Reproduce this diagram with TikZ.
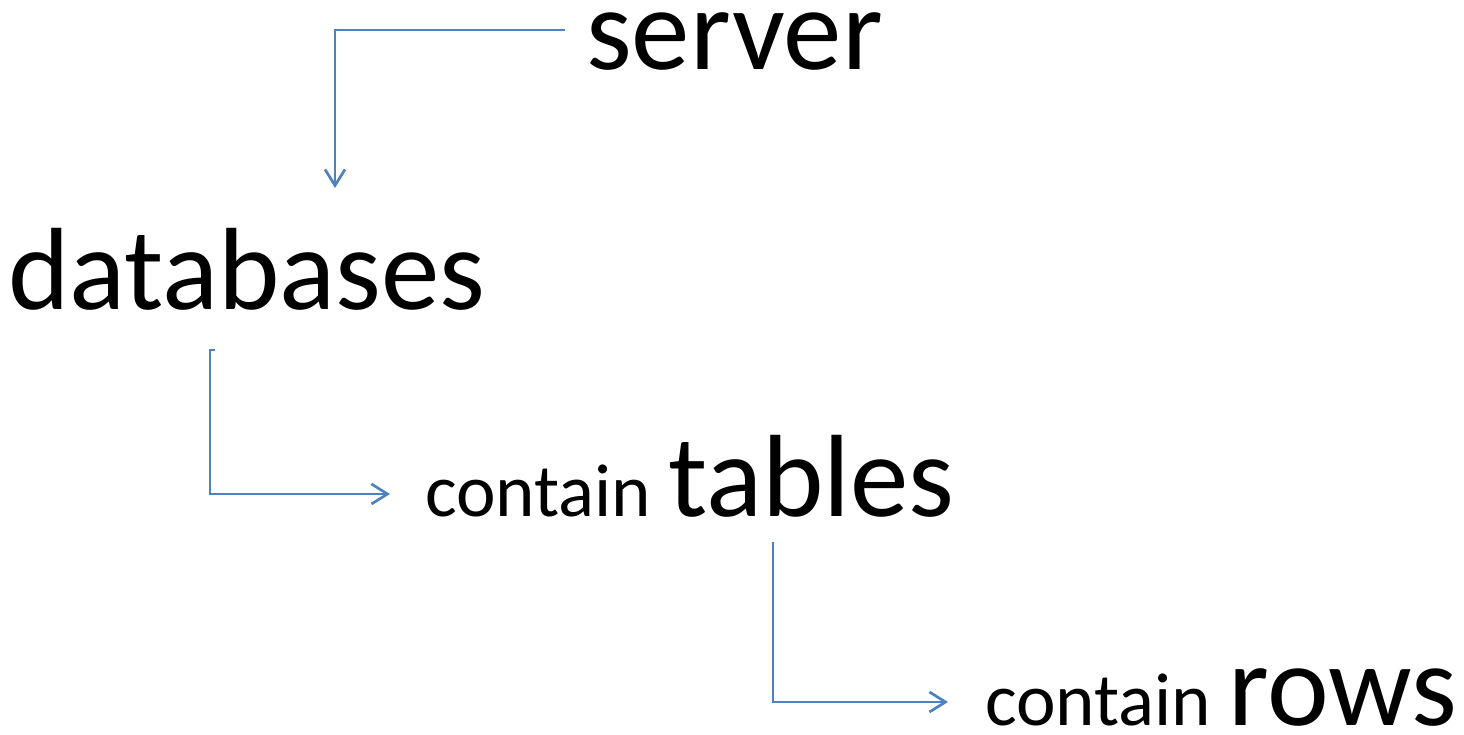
\documentclass[tikz,border=0pt]{standalone}
\usepackage{fontspec}
\setmainfont{Carlito}
\usepackage{tikz}
\usetikzlibrary{arrows.meta}
\definecolor{linkblue}{RGB}{79,129,189}

\begin{document}
\begin{tikzpicture}[
            x=1pt, y=1pt,
            big/.style={inner sep=0pt, anchor=base west, font=\fontsize{117}{120}\selectfont},
            link/.style={linkblue, line width=2.7pt, -{Straight Barb[length=16pt, width=20pt]}}
        ]
            \useasboundingbox (0,0) rectangle (1464,734);

            % Palabras
            \node[big] (server) at (586,664) {server};
            \node[big] (databases) at (8,424) {databases};
            \node[big] (tables) at (425,217) {{\fontsize{75}{80}\selectfont contain }tables};
            \node[big] (rows) at (985,9) {{\fontsize{75}{80}\selectfont contain }rows};

            % Flechas
            \draw[link] ([shift={(-21pt,40pt)}]server.base west) -| ([shift={(327pt,122pt)}]databases.base west);
            \draw[link] ([shift={(207pt,-40pt)}]databases.base west) -- ++(-5pt,0) |- ([shift={(-35pt,23pt)}]tables.base west);
            \draw[link] ([shift={(348pt,-25pt)}]tables.base west) |- ([shift={(-37pt,23pt)}]rows.base west);

        \end{tikzpicture}
\end{document}
